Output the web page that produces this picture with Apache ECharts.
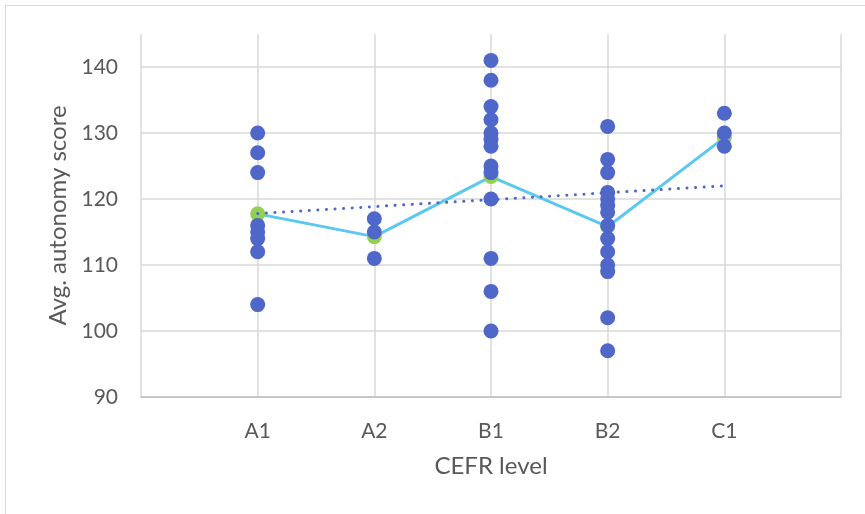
<!DOCTYPE html>
<html>
<head>
<meta charset="utf-8">
<script src="https://cdn.jsdelivr.net/npm/echarts@6/dist/echarts.min.js"></script>
<style>html,body{margin:0;padding:0;background:#fff;}#c{width:865px;height:514px;}</style>
</head>
<body>
<div id="c"></div>
<script>
const categories = ['A1', 'A2', 'B1', 'B2', 'C1'];
const scoresA1 = [130, 127, 124, 116, 115, 114, 112, 104];
const scoresA2 = [117, 115, 111];
const scoresB1 = [141, 138, 134, 132, 130, 129, 128, 125, 124, 120, 111, 106, 100];
const scoresB2 = [131, 126, 124, 121, 120, 119, 118, 116, 114, 112, 110, 109, 102, 97];
const scoresC1 = [133, 130, 128];
const levelMeans = [117.75, 114.3, 123.4, 115.8, 129.3];
const trendStart = 117.8;
const trendEnd = 122.0;
const yTicks = [90, 100, 110, 120, 130, 140];

const groups = [scoresA1, scoresA2, scoresB1, scoresB2, scoresC1];
const scatterData = [];
groups.forEach((g, i) => g.forEach(v => scatterData.push([i + 1, v])));
const meanData = levelMeans.map((v, i) => [i + 1, v]);
const trendData = [[1, trendStart], [categories.length, trendEnd]];

const font = 'Lato, "Open Sans", sans-serif';
const chart = echarts.init(document.getElementById('c'), null, {renderer: 'canvas'});
chart.setOption({
  animation: false,
  backgroundColor: '#fff',
  graphic: [
    {type: 'line', shape: {x1: 5, y1: 5.5, x2: 865, y2: 5.5}, style: {stroke: '#d9d9d9', lineWidth: 1}},
    {type: 'line', shape: {x1: 5.5, y1: 5, x2: 5.5, y2: 514}, style: {stroke: '#d9d9d9', lineWidth: 1}}
  ],
  grid: {left: 141, right: 24, top: 34, bottom: 117},
  xAxis: {
    type: 'value', min: 0, max: 6, interval: 1,
    name: 'CEFR level', nameLocation: 'middle', nameGap: 57,
    nameTextStyle: {color: '#595959', fontSize: 24, fontFamily: font},
    axisLine: {show: true, lineStyle: {color: '#bfbfbf', width: 1.5}},
    axisTick: {show: false},
    axisLabel: {
      color: '#595959', fontSize: 21, fontFamily: font, margin: 24,
      formatter: v => (v >= 1 && v <= categories.length && Number.isInteger(v)) ? categories[v - 1] : ''
    },
    splitLine: {show: true, lineStyle: {color: '#d9d9d9', width: 1.5}}
  },
  yAxis: {
    type: 'value', min: yTicks[0], max: 145, interval: 10,
    name: 'Avg. autonomy score', nameLocation: 'middle', nameGap: 68,
    nameTextStyle: {color: '#595959', fontSize: 24, fontFamily: font},
    axisLine: {show: false},
    axisTick: {show: false},
    axisLabel: {color: '#595959', fontSize: 21, fontFamily: font, margin: 23, showMaxLabel: false,
      formatter: v => yTicks.includes(v) ? String(v) : ''},
    splitLine: {show: true, showMaxLine: false, lineStyle: {color: '#d9d9d9', width: 1.5}}
  },
  series: [
    {
      type: 'line', data: meanData, symbol: 'circle', symbolSize: 15,
      itemStyle: {color: '#92d050', opacity: 1}, lineStyle: {color: '#5bc8f0', width: 3}, z: 2
    },
    {
      type: 'scatter', data: scatterData, symbol: 'circle', symbolSize: 15,
      itemStyle: {color: '#4e67c8', opacity: 1}, z: 3
    },
    {
      type: 'line', data: trendData, symbol: 'none',
      lineStyle: {color: '#4e67c8', width: 3, type: [0.1, 8.5], cap: 'round'}, z: 4
    }
  ]
});
</script>
</body>
</html>
